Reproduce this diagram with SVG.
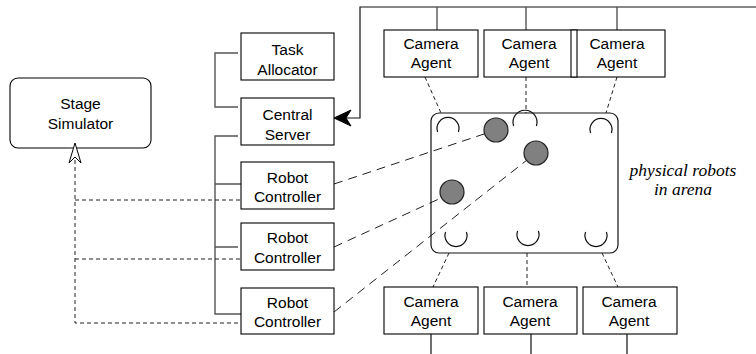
<svg xmlns="http://www.w3.org/2000/svg" width="756" height="354" viewBox="0 0 756 354">
<style>
.box{fill:#fff;stroke:#000;stroke-width:1.1}
.t{font-family:"Liberation Sans",Arial,sans-serif;font-size:15.5px;text-anchor:middle;fill:#000}
.it{font-family:"Liberation Serif","Times New Roman",serif;font-style:italic;font-size:17.5px;text-anchor:middle;fill:#000}
.solid{fill:none;stroke:#555;stroke-width:1.4}
.solidk{fill:none;stroke:#111;stroke-width:1.2}
.dsh{fill:none;stroke:#222;stroke-width:1;stroke-dasharray:4,3}
.dl{fill:none;stroke:#222;stroke-width:1;stroke-dasharray:9,6}
.arc{fill:none;stroke:#111;stroke-width:1.2}
.robot{fill:#808080;stroke:#222;stroke-width:1.2}
</style>
<rect width="756" height="354" fill="#fff"/>
<g id="connectors">
  <path class="solid" d="M238,53 H215 V107 H238"/>
  <path class="solid" d="M238,136 H215 V314 H241 M215,184 H241 M215,247 H238"/>
  <path class="solidk" d="M756,7 H360 V118 H346"/>
  <path class="solid" d="M437,7 V30 M526,7 V30 M617,7 V30"/>
  <path class="solidk" d="M431,334 V354 M531,334 V354 M627,334 V354"/>
  <polygon points="334,118 351,110 346,118 351,126" fill="#000" stroke="#000" stroke-width="1"/>
  <path class="dsh" d="M75,160 V323 H238 M75,200 H241 M75,259 H241"/>
  <path class="dl" d="M334,184 L484,134 M334,247 L441,198 M334,312 L527,160"/>
  <path class="dsh" d="M425,77 L441,113 M526,77 V113 M617,77 L606,113 M449,253 L433,287 M527,253 V287 M602,253 L618,287"/>
</g>
<g id="task-allocator"><rect class="box" x="241" y="33" width="93" height="47"/><text class="t" x="287.5" y="55">Task</text><text class="t" x="287.5" y="75">Allocator</text></g>
<g id="central-server"><rect class="box" x="241" y="98" width="93" height="47"/><text class="t" x="287.5" y="120">Central</text><text class="t" x="287.5" y="139.5">Server</text></g>
<g id="robot-controller-1"><rect class="box" x="241" y="162" width="93" height="47"/><text class="t" x="287.5" y="182.5">Robot</text><text class="t" x="287.5" y="202">Controller</text></g>
<g id="robot-controller-2"><rect class="box" x="241" y="223" width="93" height="47"/><text class="t" x="287.5" y="242.5">Robot</text><text class="t" x="287.5" y="262.5">Controller</text></g>
<g id="robot-controller-3"><rect class="box" x="241" y="288" width="93" height="46"/><text class="t" x="287.5" y="307.5">Robot</text><text class="t" x="287.5" y="327">Controller</text></g>
<g id="stage-simulator"><rect class="box" x="10" y="78" width="141" height="70" rx="8"/><text class="t" x="80.5" y="109">Stage</text><text class="t" x="80.5" y="129">Simulator</text></g>
<g id="stage-arrow"><polygon points="75,143 69,163 75,157 81,163" fill="#fff" stroke="#000" stroke-width="1"/></g>
<g id="camera-top-1"><rect class="box" x="384" y="30" width="94" height="47"/><text class="t" x="431" y="49">Camera</text><text class="t" x="431" y="68">Agent</text></g>
<g id="camera-top-2"><rect class="box" x="484" y="30" width="93" height="47"/><text class="t" x="529" y="49">Camera</text><text class="t" x="529" y="68">Agent</text></g>
<g id="camera-top-3"><rect class="box" x="571" y="30" width="94" height="47"/><line x1="577" y1="30" x2="577" y2="77" stroke="#000" stroke-width="1.1"/><text class="t" x="617" y="49">Camera</text><text class="t" x="617" y="68">Agent</text></g>
<g id="camera-bottom-1"><rect class="box" x="384" y="287" width="94" height="47"/><text class="t" x="431" y="307">Camera</text><text class="t" x="431" y="326">Agent</text></g>
<g id="camera-bottom-2"><rect class="box" x="484" y="287" width="93" height="47"/><text class="t" x="530" y="307">Camera</text><text class="t" x="530" y="326">Agent</text></g>
<g id="camera-bottom-3"><rect class="box" x="583" y="287" width="94" height="47"/><text class="t" x="629" y="307">Camera</text><text class="t" x="629" y="326">Agent</text></g>
<g id="arena">
  <rect x="431" y="113" width="187" height="140" rx="8" fill="none" stroke="#111" stroke-width="1.2"/>
  <path class="arc" d="M437.6,132 A11,11 0 1 1 458.4,132"/>
  <path class="arc" d="M513.6,126 A12,12 0 1 1 536.4,126"/>
  <path class="arc" d="M590.6,133 A11,11 0 1 1 611.4,133"/>
  <path class="arc" d="M445.6,232 A11,11 0 1 0 466.4,232"/>
  <path class="arc" d="M517.6,231 A11,11 0 1 0 538.4,231"/>
  <path class="arc" d="M585.6,232 A11,11 0 1 0 606.4,232"/>
  <circle class="robot" cx="496" cy="130" r="12"/>
  <circle class="robot" cx="536" cy="153" r="12"/>
  <circle class="robot" cx="452" cy="192" r="12"/>
</g>
<g id="label"><text class="it" x="683" y="176">physical robots</text><text class="it" x="683" y="195">in arena</text></g>
</svg>
